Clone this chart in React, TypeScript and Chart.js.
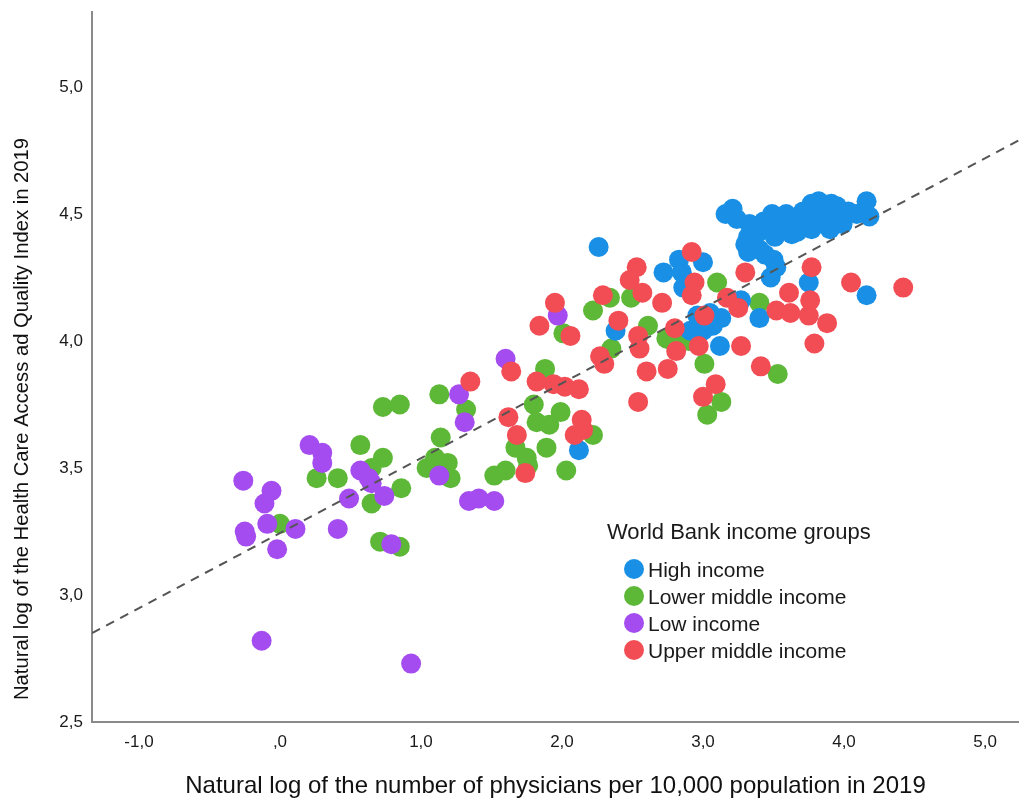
import React, { useEffect, useRef } from "react";
import { Chart, registerables } from "chart.js";

Chart.register(...registerables);

const FONT = "'Liberation Sans', Arial, sans-serif";

const groups = ["High income", "Lower middle income", "Low income", "Upper middle income"];
const groupColors = ["#1990e6", "#5cb836", "#a44cf0", "#f24d55"];
const legendTitle = "World Bank income groups";
const xTitle = "Natural log of the number of physicians per 10,000 population in 2019";
const yTitle = "Natural log of the Health Care Access ad Quality Index in 2019";

const xTicks = [-1, 0, 1, 2, 3, 4, 5];
const xTickLabels = ["-1,0", ",0", "1,0", "2,0", "3,0", "4,0", "5,0"];
const yTicks = [2.5, 3.0, 3.5, 4.0, 4.5, 5.0];
const yTickLabels = ["2,5", "3,0", "3,5", "4,0", "4,5", "5,0"];

// High income
const highX = [2.26, 2.38, 2.72, 2.83, 2.85, 2.86, 3.00, 2.96, 2.91, 2.12, 3.16, 3.21, 3.24, 3.33, 3.32, 3.30, 3.32, 3.40, 3.44, 3.50, 3.52, 3.48, 3.75, 3.40, 3.05, 3.13, 3.07, 3.00, 3.12, 4.16, 3.27, 3.43, 3.49, 3.55, 3.59, 3.63, 3.67, 3.71, 3.73, 3.77, 3.82, 3.83, 3.87, 3.91, 3.94, 3.99, 4.03, 4.09, 3.63, 3.48, 3.77, 3.95, 3.90, 4.16, 4.18, 3.51, 3.40];
const highY = [4.37, 4.04, 4.27, 4.32, 4.27, 4.21, 4.31, 4.10, 4.04, 3.57, 4.50, 4.52, 4.48, 4.46, 4.41, 4.38, 4.35, 4.36, 4.34, 4.32, 4.29, 4.25, 4.23, 4.09, 4.11, 4.09, 4.06, 4.04, 3.98, 4.18, 4.16, 4.47, 4.50, 4.44, 4.50, 4.47, 4.43, 4.51, 4.47, 4.44, 4.55, 4.51, 4.47, 4.54, 4.50, 4.46, 4.51, 4.50, 4.42, 4.44, 4.54, 4.53, 4.44, 4.55, 4.49, 4.41, 4.43];

// Lower middle income
const lowerMidX = [0.00, 0.26, 0.41, 0.57, 0.73, 0.65, 0.86, 0.65, 0.71, 0.85, 0.73, 0.85, 1.13, 1.32, 1.14, 1.04, 1.10, 1.19, 1.21, 1.88, 1.80, 1.99, 1.82, 1.91, 1.67, 1.89, 1.75, 1.76, 1.52, 1.60, 2.03, 2.01, 2.61, 2.35, 2.74, 2.90, 2.22, 3.01, 3.03, 2.49, 2.22, 3.10, 3.40, 3.53, 3.13, 2.85, 2.34, 2.78];
const lowerMidY = [3.28, 3.46, 3.46, 3.59, 3.54, 3.50, 3.42, 3.36, 3.21, 3.19, 3.74, 3.75, 3.79, 3.73, 3.62, 3.50, 3.54, 3.52, 3.46, 3.89, 3.75, 3.72, 3.68, 3.67, 3.58, 3.58, 3.54, 3.51, 3.47, 3.49, 3.49, 4.03, 4.06, 3.97, 4.01, 4.00, 3.63, 3.91, 3.71, 4.17, 4.12, 4.23, 4.15, 3.87, 3.76, 4.02, 4.17, 4.00];

// Low income
const lowX = [-0.26, -0.06, -0.11, -0.09, -0.25, -0.24, -0.02, 0.11, 0.21, 0.30, 0.30, 0.41, 0.57, 0.63, 0.65, 0.49, 0.74, 0.79, -0.13, 0.93, 1.27, 1.31, 1.13, 1.34, 1.41, 1.52, 1.60, 1.97];
const lowY = [3.45, 3.41, 3.36, 3.28, 3.25, 3.23, 3.18, 3.26, 3.59, 3.56, 3.52, 3.26, 3.49, 3.46, 3.44, 3.38, 3.39, 3.20, 2.82, 2.73, 3.79, 3.68, 3.47, 3.37, 3.38, 3.37, 3.93, 4.10];

// Upper middle income
const upperMidX = [1.35, 1.64, 1.82, 1.94, 2.02, 2.12, 1.62, 1.68, 1.74, 2.06, 2.40, 2.54, 2.55, 2.27, 2.30, 2.80, 2.97, 2.81, 2.60, 2.75, 2.54, 2.14, 2.15, 2.09, 3.00, 2.53, 2.48, 2.57, 2.29, 1.95, 2.71, 2.92, 2.94, 2.92, 3.01, 3.30, 3.77, 3.61, 3.76, 3.17, 3.25, 3.52, 3.62, 3.75, 3.88, 3.79, 3.27, 4.05, 4.42, 3.41, 3.09, 1.84];
const upperMidY = [3.84, 3.88, 3.84, 3.83, 3.82, 3.81, 3.70, 3.63, 3.48, 4.02, 4.08, 4.02, 3.97, 3.94, 3.91, 4.05, 3.98, 3.96, 3.88, 3.89, 3.76, 3.69, 3.65, 3.63, 3.78, 4.29, 4.24, 4.19, 4.18, 4.15, 4.15, 4.35, 4.23, 4.18, 4.10, 4.27, 4.29, 4.19, 4.16, 4.17, 4.13, 4.12, 4.11, 4.10, 4.07, 3.99, 3.98, 4.23, 4.21, 3.90, 3.83, 4.06];

// Fit line end points
const fitX = [-1.333, 5.241];
const fitY = [2.85, 4.79];

const seriesX = [highX, lowerMidX, lowX, upperMidX];
const seriesY = [highY, lowerMidY, lowY, upperMidY];
const drawOrder = [3, 4, 2, 1];

const toPoints = (xs: number[], ys: number[]) => xs.map((x, i) => ({ x, y: ys[i] }));

const zeroPadding = (s: any) => {
  s.paddingTop = 0;
  s.paddingBottom = 0;
  s.paddingLeft = 0;
  s.paddingRight = 0;
};

const overlayPlugin = {
  id: "overlay",
  afterDraw(chart: any) {
    const ctx = chart.ctx as CanvasRenderingContext2D;
    // rotated y-axis title
    ctx.save();
    ctx.translate(22, 419);
    ctx.rotate(-Math.PI / 2);
    ctx.font = `21px ${FONT}`;
    const w = ctx.measureText(yTitle).width;
    ctx.scale(562 / w, 1);
    ctx.textAlign = "center";
    ctx.textBaseline = "middle";
    ctx.fillStyle = "#111111";
    ctx.fillText(yTitle, 0, 0);
    ctx.restore();

    // legend
    ctx.save();
    ctx.fillStyle = "#1a1a1a";
    ctx.textBaseline = "middle";
    ctx.textAlign = "left";
    ctx.font = `22px ${FONT}`;
    ctx.fillText(legendTitle, 607, 533);
    ctx.font = `21px ${FONT}`;
    groups.forEach((g, i) => {
      const cy = 570 + 27 * i;
      ctx.beginPath();
      ctx.fillStyle = groupColors[i];
      ctx.arc(634, cy - 1, 10, 0, Math.PI * 2);
      ctx.fill();
      ctx.fillStyle = "#1a1a1a";
      ctx.fillText(g, 648, cy + 1);
    });
    ctx.restore();
  },
};

export default function App() {
  const ref = useRef<HTMLCanvasElement | null>(null);

  useEffect(() => {
    if (!ref.current) return;
    const datasets: any[] = groups.map((g, i) => ({
      type: "scatter",
      label: g,
      data: toPoints(seriesX[i], seriesY[i]),
      backgroundColor: groupColors[i],
      borderWidth: 0,
      pointRadius: 10,
      pointHoverRadius: 10,
      order: drawOrder[i],
    }));
    datasets.push({
      type: "line",
      label: "Fit",
      data: toPoints(fitX, fitY),
      borderColor: "#555555",
      borderWidth: 2,
      borderDash: [9, 7],
      pointRadius: 0,
      fill: false,
      order: 0,
    });

    const chart = new Chart(ref.current, {
      type: "scatter",
      data: { datasets },
      options: {
        animation: false,
        responsive: false,
        layout: { autoPadding: false, padding: { top: 12, right: 0, left: 0, bottom: 0 } },
        plugins: { legend: { display: false }, tooltip: { enabled: false } },
        scales: {
          x: {
            type: "linear",
            min: -1.333,
            max: 5.241,
            grid: { display: false, drawTicks: false },
            border: { display: true, color: "#8a8a8a", width: 2 },
            afterBuildTicks: (s: any) => {
              s.ticks = xTicks.map((v) => ({ value: v }));
            },
            afterFit: (s: any) => {
              s.height = 80;
              zeroPadding(s);
            },
            ticks: {
              padding: 10,
              color: "#1a1a1a",
              font: { family: FONT, size: 17 },
              callback: (v: any) => xTickLabels[xTicks.indexOf(Number(v))] ?? "",
            },
            title: {
              display: true,
              text: xTitle,
              color: "#111111",
              font: { family: FONT, size: 24 },
              padding: { top: 0, bottom: 1 },
            },
          },
          y: {
            type: "linear",
            min: 2.5,
            max: 5.295,
            grid: { display: false, drawTicks: false },
            border: { display: true, color: "#8a8a8a", width: 2 },
            afterBuildTicks: (s: any) => {
              s.ticks = yTicks.map((v) => ({ value: v }));
            },
            afterFit: (s: any) => {
              s.width = 92;
              zeroPadding(s);
            },
            ticks: {
              padding: 9,
              color: "#1a1a1a",
              font: { family: FONT, size: 17 },
              callback: (v: any) => {
                const idx = yTicks.findIndex((t) => Math.abs(t - Number(v)) < 1e-6);
                return idx >= 0 ? yTickLabels[idx] : "";
              },
            },
            title: { display: false },
          },
        },
      },
      plugins: [overlayPlugin],
    } as any);
    return () => chart.destroy();
  }, []);

  return (
    <div style={{ position: "fixed", left: 0, top: 0, width: 1019, height: 802, background: "#ffffff" }}>
      <canvas ref={ref} width={1019} height={802} style={{ display: "block" }} />
    </div>
  );
}
